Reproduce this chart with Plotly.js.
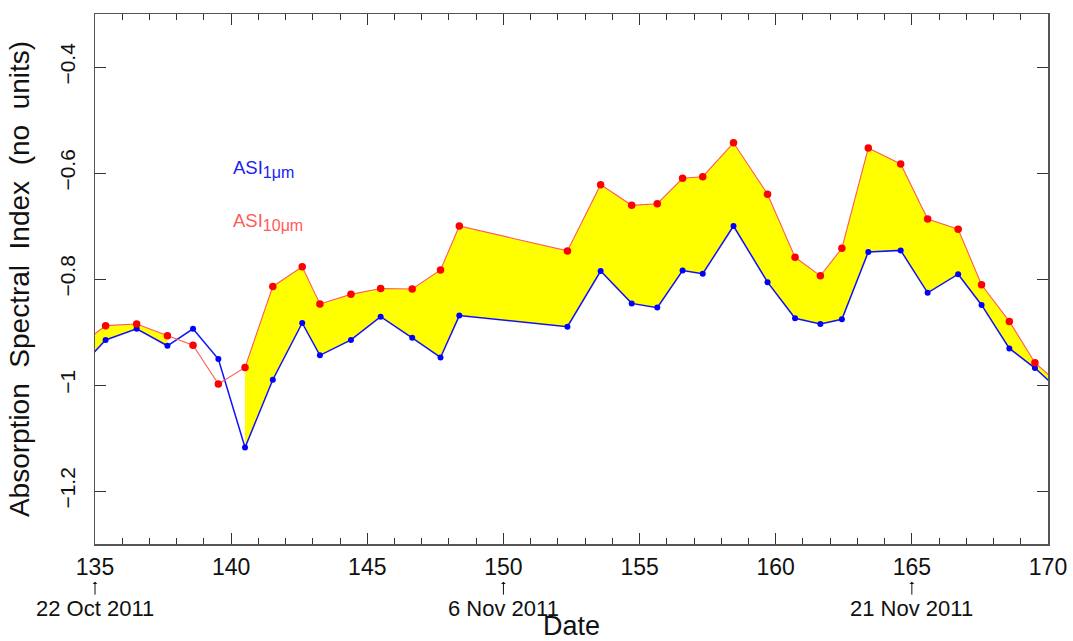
<!DOCTYPE html>
<html>
<head>
<meta charset="utf-8">
<script src="https://cdn.plot.ly/plotly-3.0.1.min.js"></script>
<style>html,body{margin:0;padding:0;background:#fff;}#chart{width:1073px;height:641px;}</style>
</head>
<body>
<div id="chart"></div>
<script>
// Day number (x) shared by both series
const days = [134.5, 135.39, 136.53, 137.66, 138.60, 139.53, 140.51, 141.53, 142.61, 143.26,
  144.40, 145.49, 146.65, 147.69, 148.38, 152.35, 153.57, 154.71, 155.65, 156.58,
  157.32, 158.45, 159.70, 160.71, 161.64, 162.43, 163.40, 164.59, 165.58, 166.70,
  167.56, 168.58, 169.52, 170.5];
// ASI at 1 micron (blue)
const asi1 = [-0.964, -0.915, -0.894, -0.926, -0.894, -0.951, -1.118, -0.990, -0.883, -0.944,
  -0.915, -0.871, -0.911, -0.948, -0.869, -0.890, -0.785, -0.846, -0.854, -0.784,
  -0.790, -0.700, -0.806, -0.874, -0.885, -0.876, -0.749, -0.746, -0.826, -0.791,
  -0.849, -0.931, -0.968, -1.014];
// ASI at 10 micron (red)
const asi10 = [-0.923, -0.888, -0.885, -0.907, -0.925, -0.998, -0.967, -0.814, -0.777, -0.847,
  -0.829, -0.818, -0.819, -0.783, -0.700, -0.747, -0.622, -0.661, -0.658, -0.610,
  -0.607, -0.543, -0.640, -0.759, -0.794, -0.742, -0.553, -0.583, -0.687, -0.706,
  -0.811, -0.880, -0.958, -1.002];
// Date markers
const dateTickX = [135, 150, 165];
const dateTickText = ['22 Oct 2011', '6 Nov 2011', '21 Nov 2011'];

const X_RANGE = [135, 170];
const FONT = 'Liberation Sans, Arial, sans-serif';
const traces = [];

// Yellow fill where the 10um index lies above the 1um index (contiguous runs)
let runs = [], cur = null;
for (let i = 0; i < days.length; i++) {
  if (asi10[i] >= asi1[i]) { if (!cur) cur = [i, i]; else cur[1] = i; }
  else if (cur) { runs.push(cur); cur = null; }
}
if (cur) runs.push(cur);
runs.forEach(r => {
  const xs = days.slice(r[0], r[1] + 1);
  traces.push({x: xs, y: asi1.slice(r[0], r[1] + 1), mode: 'lines', line: {width: 0, color: 'rgba(0,0,0,0)'},
    showlegend: false, hoverinfo: 'skip'});
  traces.push({x: xs, y: asi10.slice(r[0], r[1] + 1), mode: 'lines', line: {width: 0, color: 'rgba(0,0,0,0)'},
    fill: 'tonexty', fillcolor: '#ffff00', showlegend: false, hoverinfo: 'skip'});
});

traces.push({x: days, y: asi1, mode: 'lines+markers', line: {color: '#1010ff', width: 1.5},
  marker: {color: '#0000ff', size: 6}, showlegend: false});
traces.push({x: days, y: asi10, mode: 'lines+markers', line: {color: '#ff5a5a', width: 1.1},
  marker: {color: '#ff0000', size: 7.5}, showlegend: false});

const annotations = [];
dateTickX.forEach((d, i) => {
  annotations.push({
    x: (d - X_RANGE[0]) / (X_RANGE[1] - X_RANGE[0]), xref: 'paper', y: -0.071, yref: 'paper',
    text: dateTickText[i], showarrow: true, ax: 0, ay: 27, arrowhead: 1, arrowsize: 0.8,
    arrowwidth: 1, arrowcolor: '#111', standoff: 0, startstandoff: 0,
    font: {family: FONT, size: 22, color: '#111'}
  });
});
annotations.push({x: 140, xref: 'x', y: -0.592, yref: 'y', xanchor: 'left', yanchor: 'middle', showarrow: false,
  text: 'ASI<sub><span style="font-size:16px">1μm</span></sub>', font: {family: FONT, size: 18.5, color: '#2020f0'}});
annotations.push({x: 140, xref: 'x', y: -0.692, yref: 'y', xanchor: 'left', yanchor: 'middle', showarrow: false,
  text: 'ASI<sub><span style="font-size:16px">10μm</span></sub>', font: {family: FONT, size: 18.5, color: '#ff5a5a'}});

const sp = '\u00a0\u00a0';
const layout = {
  width: 1073, height: 641,
  margin: {l: 95, r: 25, t: 14, b: 97},
  paper_bgcolor: '#fff', plot_bgcolor: '#fff',
  font: {family: FONT, color: '#111'},
  showlegend: false,
  xaxis: {
    range: X_RANGE, dtick: 5, tick0: 135, ticks: 'inside', ticklen: 11, tickwidth: 1, tickcolor: '#333',
    minor: {dtick: 1, ticks: 'inside', ticklen: 6, tickwidth: 1, tickcolor: '#333'},
    mirror: 'ticks', showline: true, linecolor: '#555', linewidth: 1.5, showgrid: false, zeroline: false,
    tickfont: {family: FONT, size: 23, color: '#111'}, ticklabelstandoff: 2,
    title: {text: 'Date', font: {family: FONT, size: 27, color: '#111'}, standoff: 66}
  },
  yaxis: {
    range: [-1.3, -0.3], dtick: 0.2, tick0: -0.4, ticks: 'inside', ticklen: 11, tickwidth: 1, tickcolor: '#333',
    mirror: 'ticks', showline: true, linecolor: '#555', linewidth: 1.5, showgrid: false, zeroline: false,
    tickangle: -90, tickfont: {family: FONT, size: 21, color: '#111'}, ticklabelstandoff: 10,
    title: {text: 'Absorption' + sp + 'Spectral' + sp + 'Index' + sp + '(no' + sp + 'units)',
      font: {family: FONT, size: 28, color: '#111'}, standoff: 18}
  },
  annotations: annotations
};

Plotly.newPlot('chart', traces, layout, {displayModeBar: false, staticPlot: true});
</script>
</body>
</html>
